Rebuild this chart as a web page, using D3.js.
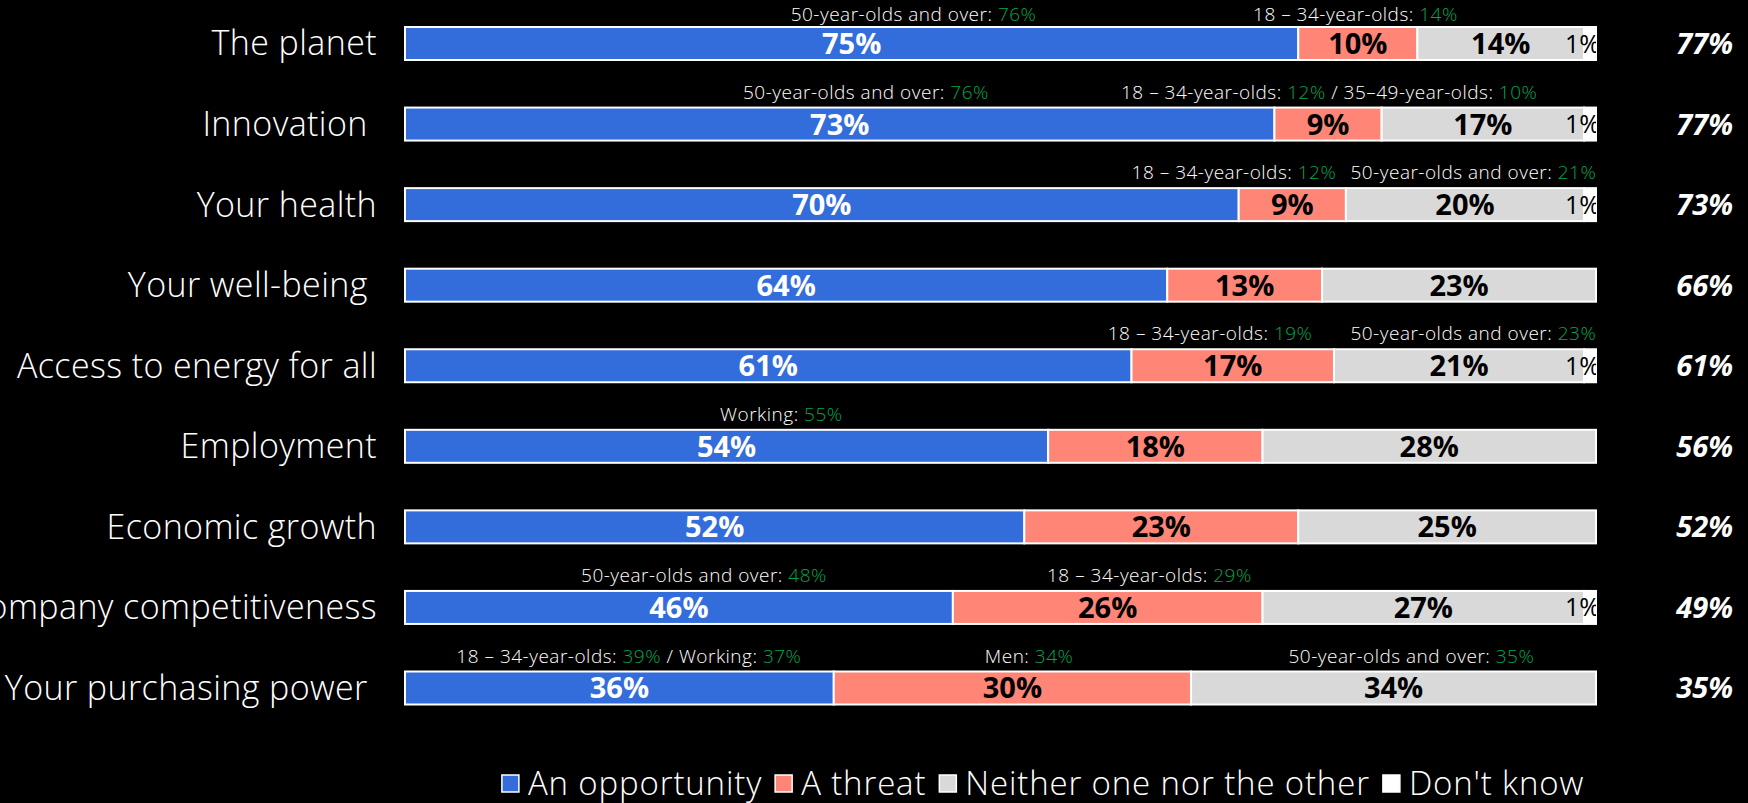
<!DOCTYPE html>
<html>
<head>
<meta charset="utf-8">
<script src="https://cdn.jsdelivr.net/npm/d3@7"></script>
<style>
  html, body { margin: 0; padding: 0; background: #000; }
  svg { display: block; }
  text { white-space: pre; }
</style>
</head>
<body>
<svg id="chart" width="1748" height="803"></svg>
<script>
// ---------- DATA ----------
const categories = ["The planet", "Innovation ", "Your health", "Your well-being ", "Access to energy for all",
  "Employment", "Economic growth", "Company competitiveness", "Your purchasing power "];
const seriesNames = ["An opportunity", "A threat", "Neither one nor the other", "Don't know"];
const opportunity = [75, 73, 70, 64, 61, 54, 52, 46, 36];
const threat      = [10,  9,  9, 13, 17, 18, 23, 26, 30];
const neither     = [14, 17, 20, 23, 21, 28, 25, 27, 34];
const dontKnow    = [ 1,  1,  1,  0,  1,  0,  0,  1,  0];
const totals      = [77, 77, 73, 66, 61, 56, 52, 49, 35];
// sub-group notes: [category index, [[text, value], ...], anchor on the value axis (%)]
const notes = [
  [0, [["50-year-olds and over: ", "76%"]], 42.7],
  [0, [["18 – 34-year-olds: ", "14%"]], 79.8],
  [1, [["50-year-olds and over: ", "76%"]], 38.7],
  [1, [["18 – 34-year-olds: ", "12%"], [" / 35–49-year-olds: ", "10%"]], 77.6],
  [2, [["18 – 34-year-olds: ", "12%"]], 69.6],
  [2, [["50-year-olds and over: ", "21%"]], 89.7],
  [4, [["18 – 34-year-olds: ", "19%"]], 67.6],
  [4, [["50-year-olds and over: ", "23%"]], 89.7],
  [5, [["Working: ", "55%"]], 31.6],
  [7, [["50-year-olds and over: ", "48%"]], 25.1],
  [7, [["18 – 34-year-olds: ", "29%"]], 62.5],
  [8, [["18 – 34-year-olds: ", "39%"], [" / Working: ", "37%"]], 18.8],
  [8, [["Men: ", "34%"]], 52.4],
  [8, [["50-year-olds and over: ", "35%"]], 84.5]
];

// ---------- STYLE ----------
const colors = ["#336DDC", "#FF8576", "#D9D9D9", "#FFFFFF"];
const labelColors = ["#FFFFFF", "#000000", "#000000", "#000000"];
const green = "#00A650";
const font = "'Open Sans', Lato, sans-serif";

const W = 1748, H = 803;
const svg = d3.select("#chart");
svg.append("rect").attr("width", W).attr("height", H).attr("fill", "#000");

const x = d3.scaleLinear().domain([0, 100]).range([405, 1596]);
const y = d3.scalePoint().domain(d3.range(categories.length)).range([43.5, 688]);
const barH = 33;

const rows = categories.map((c, i) => ({
  i, cat: c, vals: [opportunity[i], threat[i], neither[i], dontKnow[i]]
}));
const stack = d3.stack().keys([0, 1, 2, 3]).value((d, k) => d.vals[k]);
const layers = stack(rows);

svg.append("defs").append("clipPath").attr("id", "barclip")
  .append("rect").attr("x", 0).attr("y", 0).attr("width", x(100)).attr("height", H);

// category labels
svg.append("g").selectAll("text").data(rows).join("text")
  .attr("x", 377).attr("y", d => y(d.i))
  .attr("dy", "0.35em")
  .attr("text-anchor", "end")
  .attr("fill", "#fff")
  .attr("font-family", font).attr("font-weight", 300)
  .attr("font-size", 34).attr("letter-spacing", 0.4)
  .text(d => d.cat);

// bars
const g = svg.append("g");
layers.forEach((layer, k) => {
  g.append("g").selectAll("rect").data(layer.filter(d => d[1] > d[0])).join("rect")
    .attr("x", d => x(d[0]))
    .attr("width", d => x(d[1]) - x(d[0]))
    .attr("y", d => y(d.data.i) - barH / 2)
    .attr("height", barH)
    .attr("fill", colors[k])
    .attr("stroke", "#fff").attr("stroke-width", 2);
});

// segment value labels
const lg = svg.append("g").attr("clip-path", "url(#barclip)");
layers.forEach((layer, k) => {
  layer.filter(d => d[1] > d[0]).forEach(d => {
    const v = d[1] - d[0];
    if (k < 3) {
      lg.append("text")
        .attr("x", (x(d[0]) + x(d[1])) / 2)
        .attr("y", y(d.data.i)).attr("dy", "0.36em")
        .attr("text-anchor", "middle")
        .attr("fill", labelColors[k])
        .attr("font-family", font).attr("font-weight", 700).attr("font-size", 29)
        .text(v + "%");
    } else {
      lg.append("text")
        .attr("x", x(d[1]) + 4)
        .attr("y", y(d.data.i)).attr("dy", "0.36em")
        .attr("text-anchor", "end")
        .attr("fill", "#000")
        .attr("font-family", font).attr("font-weight", 400).attr("font-size", 25)
        .text(v + "%");
    }
  });
});

// totals on the right
svg.append("g").selectAll("text").data(rows).join("text")
  .attr("x", 1733).attr("y", d => y(d.i)).attr("dy", "0.36em")
  .attr("text-anchor", "end")
  .attr("fill", "#fff")
  .attr("font-family", font).attr("font-weight", 700).attr("font-style", "italic")
  .attr("font-size", 29)
  .text(d => totals[d.i] + "%");

// notes
notes.forEach(([ci, parts, at]) => {
  const t = svg.append("text")
    .attr("x", x(at)).attr("y", Math.max(y(ci) - barH / 2 - 9, 21))
    .attr("text-anchor", "middle")
    .attr("font-family", font).attr("font-weight", 300).attr("font-size", 19)
    .attr("letter-spacing", 0.5);
  parts.forEach(([lab, val]) => {
    t.append("tspan").attr("fill", "#fff").text(lab);
    t.append("tspan").attr("fill", green).text(val);
  });
});

// legend
const leg = svg.append("g");
const items = seriesNames.map((n, k) => {
  const it = leg.append("g");
  it.append("rect").attr("x", 0).attr("y", -20).attr("width", 17).attr("height", 17)
    .attr("fill", colors[k]).attr("stroke", "#fff").attr("stroke-width", 1.5);
  const tx = it.append("text").attr("x", 26).attr("y", 0)
    .attr("fill", "#fff").attr("font-family", font).attr("font-weight", 300)
    .attr("font-size", 33).attr("letter-spacing", 0.85).text(n);
  return { it, w: 26 + tx.node().getComputedTextLength() };
});
const gap = 13;
const totalW = d3.sum(items, d => d.w) + gap * (items.length - 1);
let cx = 1043 - totalW / 2;
items.forEach(d => { d.it.attr("transform", `translate(${cx},795)`); cx += d.w + gap; });
</script>
</body>
</html>
